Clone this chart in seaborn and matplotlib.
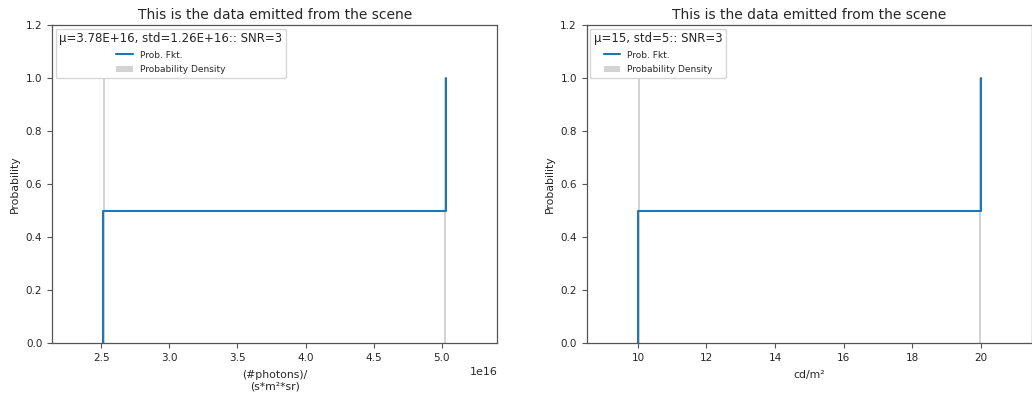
import numpy as np
import seaborn as sns
import matplotlib.pyplot as plt
from matplotlib.lines import Line2D
from matplotlib.patches import Patch

# Emitted values of the scene (two samples each, mu -/+ std)
photon_values = [2.516e16, 5.032e16]
lum_values = [10.0, 20.0]

titles = ["This is the data emitted from the scene", "This is the data emitted from the scene"]
legend_titles = ["\u03bc=3.78E+16, std=1.26E+16:: SNR=3", "\u03bc=15, std=5:: SNR=3"]
xlabels = ["(#photons)/\n(s*m\u00b2*sr)", "cd/m\u00b2"]

sns.set_style("ticks")
plt.rcParams["font.family"] = ["DejaVu Sans"]

fig, axes = plt.subplots(1, 2, figsize=(10.32, 4), dpi=100)
fig.subplots_adjust(left=0.0504, right=1.0, bottom=0.1425, top=0.9375, wspace=0.2)

blue = "#1f77b4"
gray = "lightgray"

for ax, vals, title, leg_title, xlabel in zip(axes, [photon_values, lum_values],
                                             titles, legend_titles, xlabels):
    vals = np.asarray(vals)
    span = vals.max() - vals.min()

    sns.histplot(x=vals, bins=200, stat="count", color=gray, alpha=1.0,
                 linewidth=0, ax=ax)
    sns.ecdfplot(x=vals, color=blue, linewidth=1.5, ax=ax)

    ax.set_xlim(vals.min() - 0.15 * span, vals.max() + 0.15 * span)
    ax.set_ylim(0, 1.2)
    ax.set_yticks(np.arange(0, 1.21, 0.2))
    ax.set_title(title, fontsize=10, pad=4)
    ax.set_ylabel("Probability", fontsize=7.8)
    ax.set_xlabel(xlabel, fontsize=7.8, labelpad=5)
    ax.tick_params(labelsize=7.5, color="#555555", width=0.8, length=3.5)
    for s in ax.spines.values():
        s.set_color("#555555")
        s.set_linewidth(0.9)

    handles = [Line2D([0], [0], color=blue, linewidth=1.5),
               Patch(facecolor=gray, edgecolor="none")]
    ax.legend(handles, ["Prob. Fkt.", "Probability Density"], title=leg_title,
              loc="upper left", fontsize=6.5, title_fontsize=8.5, framealpha=0.8,
              labelspacing=0.6, handlelength=1.8, borderaxespad=0.4)

axes[0].xaxis.get_offset_text().set_fontsize(8)

fig.savefig("out.png", dpi=100)
